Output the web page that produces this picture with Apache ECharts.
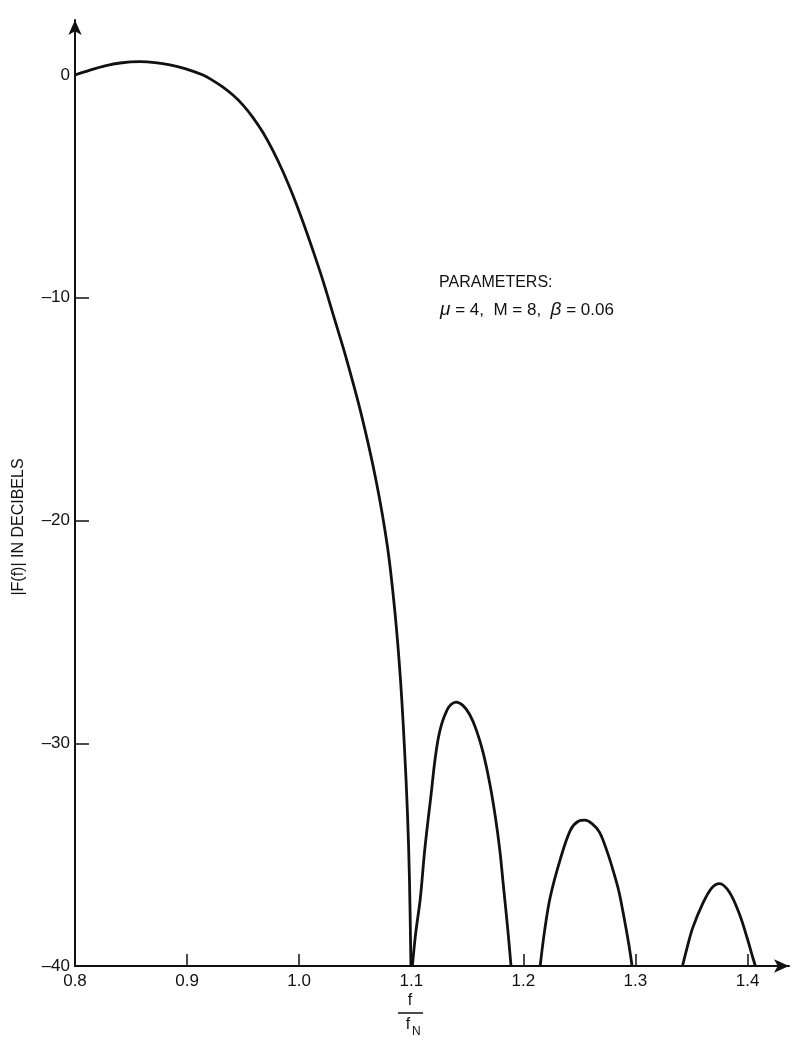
<!DOCTYPE html>
<html>
<head>
<meta charset="utf-8">
<script src="https://cdn.jsdelivr.net/npm/echarts@6/dist/echarts.min.js"></script>
<style>
html,body{margin:0;padding:0;background:#fff;}
#c{width:797px;height:1037px;}
</style>
</head>
<body>
<div id="c"></div>
<script>
// ---- data (f / fN , dB) ----
const mainF = [0.8000,0.8134,0.8268,0.8401,0.8580,0.8714,0.8847,0.8981,0.9142,0.9231,0.9320,0.9409,0.9499,0.9588,0.9677,0.9766,0.9855,0.9945,1.0034,1.0123,1.0212,1.0315,1.0417,1.0551,1.0685,1.0788,1.0855,1.0904,1.0939,1.0966,1.0984,1.0997];
const mainDb = [0,0.22,0.41,0.54,0.60,0.56,0.46,0.29,0,-0.25,-0.54,-0.90,-1.35,-1.91,-2.58,-3.39,-4.33,-5.41,-6.60,-7.88,-9.23,-10.95,-12.66,-15.17,-18.18,-21.19,-24.15,-27.16,-30.17,-33.13,-36.14,-40];
const lobe1F = [1.101,1.104,1.108,1.112,1.117,1.124,1.132,1.140,1.146,1.152,1.158,1.164,1.170,1.175,1.179,1.182,1.186,1.189];
const lobe1Db = [-40,-38.5,-37,-34.8,-32.6,-29.8,-28.5,-28.15,-28.3,-28.7,-29.4,-30.4,-31.8,-33.3,-34.8,-36.3,-38.3,-40];
const lobe2F = [1.215,1.219,1.224,1.233,1.242,1.249,1.255,1.261,1.268,1.275,1.280,1.285,1.289,1.294,1.297];
const lobe2Db = [-40,-38.4,-36.9,-35.2,-33.9,-33.5,-33.45,-33.6,-34.0,-34.9,-35.7,-36.6,-37.6,-39,-40];
const lobe3F = [1.342,1.346,1.351,1.360,1.368,1.375,1.384,1.393,1.400,1.404,1.407];
const lobe3Db = [-40,-39.2,-38.3,-37.2,-36.5,-36.3,-36.7,-37.7,-38.8,-39.5,-40];
const xTickLabels = [0.8,0.9,1.0,1.1,1.2,1.3,1.4];
const xTicks = [0.9,1.0,1.1,1.2,1.3,1.4];
const yTickLabels = [-40,-30,-20,-10,0];
const yTicks = [-30,-20,-10];

const pairs = (xs, ys) => xs.map((x, i) => [x, ys[i]]);
const FONT = '"Liberation Sans", Arial, Helvetica, sans-serif';
const INK = '#111';

const lineSeries = (data) => ({
  type: 'line', data: data, showSymbol: false, symbol: 'none',
  smooth: 0.35,
  lineStyle: { color: INK, width: 2.8 }, clip: true, silent: true
});

const chart = echarts.init(document.getElementById('c'), null, { renderer: 'canvas' });
chart.setOption({
  backgroundColor: '#fff',
  animation: false,
  grid: { left: 75, right: 8, top: 20, bottom: 71, containLabel: false, outerBoundsMode: 'none' },
  xAxis: {
    type: 'value', min: 0.8, max: 1.437, interval: 0.1,
    splitLine: { show: false },
    axisLine: { show: true, onZero: false, lineStyle: { color: INK, width: 2 }, symbol: ['none', 'arrow'], symbolSize: [10, 15] },
    axisTick: { show: true, inside: true, length: 12, lineStyle: { color: INK, width: 1.5 }, customValues: xTicks },
    axisLabel: { customValues: xTickLabels, formatter: v => Number(v).toFixed(1), margin: 7, fontSize: 17, color: INK, fontFamily: FONT }
  },
  yAxis: {
    type: 'value', min: -40, max: 2.47, interval: 10,
    splitLine: { show: false },
    axisLine: { show: true, onZero: false, lineStyle: { color: INK, width: 2 }, symbol: ['none', 'arrow'], symbolSize: [10, 15] },
    axisTick: { show: true, inside: true, length: 14, lineStyle: { color: INK, width: 1.5 }, customValues: yTicks },
    axisLabel: { customValues: yTickLabels, formatter: v => String(v).replace('-', '\u2013'), margin: 5, fontSize: 17, color: INK, fontFamily: FONT }
  },
  series: [
    lineSeries(pairs(mainF, mainDb)),
    lineSeries(pairs(lobe1F, lobe1Db)),
    lineSeries(pairs(lobe2F, lobe2Db)),
    lineSeries(pairs(lobe3F, lobe3Db))
  ],
  graphic: [
    { type: 'text', x: 19, y: 527, rotation: Math.PI / 2,
      style: { text: '|F(f)| IN DECIBELS', fill: INK, font: '16px ' + FONT, align: 'center', verticalAlign: 'middle' } },
    { type: 'text', x: 439, y: 283,
      style: { text: 'PARAMETERS:', fill: INK, font: '16px ' + FONT, align: 'left', verticalAlign: 'middle' } },
    { type: 'text', x: 440, y: 310,
      style: { text: '{i|\u03bc} = 4,  M = 8,  {i|\u03b2} = 0.06', fill: INK, font: '17px ' + FONT, align: 'left', verticalAlign: 'middle',
        rich: { i: { fontStyle: 'italic', fontSize: 19, fontFamily: FONT, fill: INK } } } },
    { type: 'text', x: 410, y: 1001,
      style: { text: 'f', fill: INK, font: '16px ' + FONT, align: 'center', verticalAlign: 'middle' } },
    { type: 'line', shape: { x1: 398, y1: 1013, x2: 423, y2: 1013 }, style: { stroke: INK, lineWidth: 1.5 } },
    { type: 'text', x: 408, y: 1025,
      style: { text: 'f', fill: INK, font: '16px ' + FONT, align: 'center', verticalAlign: 'middle' } },
    { type: 'text', x: 412, y: 1032,
      style: { text: 'N', fill: INK, font: '12px ' + FONT, align: 'left', verticalAlign: 'middle' } }
  ]
});
</script>
</body>
</html>
